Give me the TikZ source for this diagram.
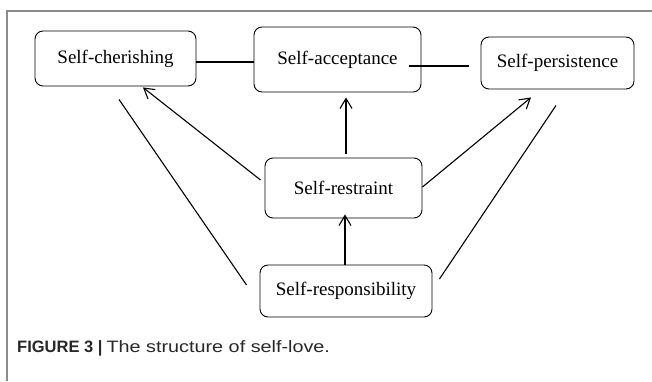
\documentclass[tikz,border=0pt]{standalone}
\usepackage{tikz}
\usetikzlibrary{arrows.meta,calc,positioning}
\usepackage{fontspec}
\setmainfont{Liberation Serif}
\newfontfamily\capfont{Liberation Sans}
\newfontfamily\capwide[FakeStretch=1.2]{Liberation Sans}
\usepackage{xcolor}
\definecolor{Frame}{RGB}{140,140,140}
\definecolor{Caption}{RGB}{40,40,40}

\tikzset{
  facet/.style={draw, line width=0.9pt, rounded corners=8pt, align=center,
    inner sep=0pt, font=\fontsize{19}{22}\selectfont},
  link/.style={line width=1.1pt},
  arrowto/.style={line width=1.1pt, -{Straight Barb[length=10pt,width=12pt,line width=1.1pt]}}
}

\begin{document}
\begin{tikzpicture}[x=1pt,y=-1pt]
\useasboundingbox (0,0) rectangle (652,381);
\draw[Frame,line width=1.5pt] (652,11) -- (7,11) -- (7,381);
%
\node[facet, minimum width=161pt, minimum height=55pt] (cher) at (115.5,58.5) {Self-cherishing};
\node[facet, minimum width=167pt, minimum height=65pt] (accept) at (337.5,59.5) {Self-acceptance};
\node[facet, minimum width=153pt, minimum height=52pt] (persist) at (557.5,63) {Self-persistence};
\node[facet, minimum width=157pt, minimum height=60pt] (restr) at (343.5,188) {Self-restraint};
\node[facet, minimum width=172pt, minimum height=52pt] (resp) at (346,291) {Self-responsibility};
%
\draw[link] ([yshift=-3.5pt]cher.east) -- ([yshift=-3.5pt]cher.east -| accept.west);
\draw[link] ([xshift=-12pt,yshift=-6.5pt]accept.east) -- ([xshift=-12pt,yshift=-3pt]persist.west);
\draw[arrowto] ([xshift=2.5pt,yshift=4pt]restr.north) -- ([xshift=8.5pt,yshift=-5pt]accept.south);
\draw[arrowto] ([xshift=-4pt,yshift=8pt]restr.west) -- ([xshift=27.5pt,yshift=-1pt]cher.south);
\draw[arrowto] ([yshift=1pt]restr.east) -- ([xshift=-26.5pt,yshift=-8pt]persist.south);
\draw[arrowto] ([xshift=-1pt]resp.north) -- ([xshift=1.5pt,yshift=4pt]restr.south);
\draw[link] ([xshift=3.5pt,yshift=-13pt]cher.south) -- ([xshift=-13pt,yshift=6pt]resp.west);
\draw[link] ([xshift=-1.5pt,yshift=-16pt]persist.south) -- ([xshift=7pt,yshift=12pt]resp.east);
%
\node[anchor=west, inner sep=0pt, text=Caption, font=\fontsize{16.5}{19}\selectfont] (caption) at (17,348)
  {{\capfont\bfseries FIGURE 3 |} {\capwide The structure of self-love.}};
\end{tikzpicture}
\end{document}
